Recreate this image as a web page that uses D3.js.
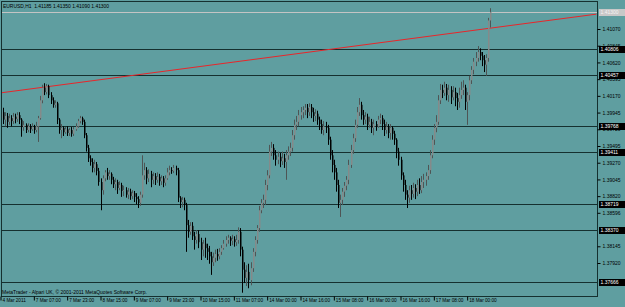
<!DOCTYPE html>
<html><head><meta charset="utf-8">
<script src="https://cdn.jsdelivr.net/npm/d3@7"></script>
<style>body{margin:0;background:#5f9ea0;} svg{display:block;} text{font-family:"Liberation Sans",Arial,sans-serif;}</style>
</head><body><svg id="c" width="625" height="307"></svg>
<script>
const titleText = "EURUSD,H1  1.41185 1.41350 1.41090 1.41300";
const footerText = "MetaTrader - Alpari UK, \u00a9 2001-2011 MetaQuotes Software Corp.";

const open = [
1.3987,1.3995,1.3985,1.3990,1.3982,1.3987,1.3983,1.3989,1.3986,1.3991,
1.3985,1.3975,1.3978,1.3971,1.3976,1.3972,1.3975,1.3971,1.3976,1.3987,
1.4011,1.4028,1.4022,1.4030,1.4018,1.4011,1.4005,1.4007,1.3985,1.3971,
1.3974,1.3968,1.3972,1.3967,1.3971,1.3966,1.3972,1.3976,1.3983,1.3987,
1.3982,1.3964,1.3947,1.3933,1.3928,1.3920,1.3925,1.3916,1.3901,1.3890,
1.3906,1.3914,1.3909,1.3912,1.3904,1.3898,1.3901,1.3893,1.3897,1.3889,
1.3890,1.3884,1.3888,1.3882,1.3886,1.3881,1.3878,1.3873,1.3884,1.3910,
1.3917,1.3906,1.3912,1.3904,1.3909,1.3904,1.3908,1.3902,1.3906,1.3900,
1.3906,1.3914,1.3917,1.3916,1.3920,1.3917,1.3880,1.3874,1.3877,1.3870,
1.3843,1.3834,1.3842,1.3828,1.3823,1.3831,1.3820,1.3810,1.3818,1.3812,
1.3807,1.3801,1.3793,1.3799,1.3804,1.3801,1.3807,1.3812,1.3818,1.3823,
1.3826,1.3822,1.3824,1.3820,1.3823,1.3834,1.3810,1.3783,1.3772,1.3780,
1.3769,1.3785,1.3807,1.3823,1.3839,1.3863,1.3873,1.3877,1.3897,1.3910,
1.3942,1.3947,1.3937,1.3931,1.3935,1.3929,1.3933,1.3928,1.3937,1.3942,
1.3947,1.3964,1.3978,1.3982,1.3991,1.3995,1.3998,1.4001,1.3995,1.4002,
1.3995,1.3990,1.3993,1.3985,1.3979,1.3971,1.3976,1.3974,1.3958,1.3937,
1.3924,1.3914,1.3897,1.3873,1.3877,1.3888,1.3896,1.3904,1.3924,1.3944,
1.3960,1.3978,1.3995,1.4005,1.3991,1.3985,1.3989,1.3978,1.3982,1.3974,
1.3979,1.3976,1.3985,1.3987,1.3979,1.3971,1.3975,1.3967,1.3974,1.3966,
1.3958,1.3942,1.3931,1.3910,1.3897,1.3884,1.3880,1.3890,1.3885,1.3893,
1.3888,1.3897,1.3890,1.3901,1.3904,1.3909,1.3917,1.3937,1.3958,1.3974,
1.3982,1.4011,1.4025,1.4021,1.4028,1.4018,1.4025,1.4015,1.4022,1.4014,
1.4009,1.4018,1.4025,1.4028,1.4009,1.4018,1.4038,1.4052,1.4063,1.4068,
1.4076,1.4071,1.4065,1.4059,1.4068,1.41185];

const high = [
1.4007,1.4001,1.3995,1.3994,1.3993,1.3991,1.3994,1.3993,1.3995,1.3995,
1.3987,1.3983,1.3980,1.3980,1.3979,1.3980,1.3978,1.3982,1.3990,1.4017,
1.4032,1.4034,1.4033,1.4032,1.4022,1.4015,1.4011,1.4009,1.3987,1.3979,
1.3976,1.3975,1.3976,1.3974,1.3975,1.3975,1.3980,1.3986,1.3990,1.3989,
1.3985,1.3967,1.3951,1.3937,1.3933,1.3931,1.3928,1.3920,1.3906,1.3910,
1.3917,1.3920,1.3917,1.3914,1.3908,1.3906,1.3904,1.3902,1.3900,1.3896,
1.3894,1.3893,1.3892,1.3890,1.3889,1.3886,1.3882,1.3888,1.3937,1.3927,
1.3921,1.3918,1.3916,1.3914,1.3913,1.3914,1.3912,1.3910,1.3909,1.3910,
1.3920,1.3923,1.3921,1.3924,1.3923,1.3920,1.3882,1.3881,1.3880,1.3873,
1.3850,1.3847,1.3847,1.3834,1.3836,1.3836,1.3826,1.3823,1.3826,1.3818,
1.3815,1.3807,1.3806,1.3810,1.3811,1.3812,1.3816,1.3823,1.3828,1.3830,
1.3828,1.3830,1.3828,1.3830,1.3840,1.3839,1.3814,1.3793,1.3789,1.3791,
1.3793,1.3812,1.3828,1.3843,1.3869,1.3878,1.3884,1.3904,1.3917,1.3951,
1.3955,1.3952,1.3944,1.3942,1.3940,1.3942,1.3939,1.3944,1.3949,1.3954,
1.3971,1.3985,1.3990,1.3998,1.4002,1.4003,1.4006,1.4006,1.4007,1.4006,
1.4001,1.3999,1.3997,1.3989,1.3985,1.3983,1.3982,1.3978,1.3962,1.3944,
1.3931,1.3920,1.3904,1.3884,1.3893,1.3901,1.3909,1.3931,1.3951,1.3966,
1.3985,1.4002,1.4014,1.4009,1.3998,1.3995,1.3993,1.3989,1.3986,1.3985,
1.3983,1.3990,1.3993,1.3991,1.3985,1.3982,1.3979,1.3979,1.3976,1.3970,
1.3960,1.3947,1.3935,1.3914,1.3904,1.3890,1.3896,1.3897,1.3900,1.3898,
1.3904,1.3906,1.3909,1.3912,1.3914,1.3924,1.3944,1.3964,1.3979,1.3991,
1.4018,1.4033,1.4032,1.4036,1.4033,1.4032,1.4030,1.4030,1.4028,1.4021,
1.4028,1.4036,1.4038,1.4032,1.4022,1.4044,1.4057,1.4068,1.4076,1.4084,
1.4081,1.4076,1.4072,1.4073,1.4122,1.41350];

const low = [
1.3955,1.3979,1.3976,1.3974,1.3978,1.3976,1.3979,1.3980,1.3982,1.3979,
1.3962,1.3970,1.3967,1.3968,1.3967,1.3970,1.3966,1.3968,1.3955,1.3985,
1.4007,1.4018,1.4019,1.4014,1.4006,1.4001,1.4001,1.3979,1.3966,1.3960,
1.3963,1.3966,1.3963,1.3963,1.3962,1.3963,1.3970,1.3974,1.3980,1.3978,
1.3960,1.3942,1.3928,1.3923,1.3914,1.3914,1.3910,1.3896,1.3863,1.3884,
1.3902,1.3904,1.3904,1.3898,1.3893,1.3890,1.3885,1.3890,1.3881,1.3882,
1.3880,1.3878,1.3877,1.3878,1.3874,1.3871,1.3866,1.3869,1.3880,1.3904,
1.3898,1.3901,1.3894,1.3898,1.3897,1.3900,1.3896,1.3897,1.3894,1.3896,
1.3904,1.3910,1.3912,1.3913,1.3910,1.3874,1.3866,1.3867,1.3863,1.3807,
1.3826,1.3830,1.3823,1.3810,1.3818,1.3812,1.3796,1.3801,1.3799,1.3796,
1.3791,1.3776,1.3788,1.3793,1.3795,1.3797,1.3803,1.3810,1.3814,1.3818,
1.3815,1.3816,1.3814,1.3815,1.3818,1.3801,1.3752,1.3765,1.3761,1.3758,
1.3762,1.3780,1.3801,1.3818,1.3834,1.3859,1.3866,1.3870,1.3890,1.3906,
1.3936,1.3931,1.3923,1.3925,1.3921,1.3924,1.3920,1.3904,1.3931,1.3936,
1.3942,1.3958,1.3971,1.3976,1.3985,1.3987,1.3991,1.3987,1.3990,1.3987,
1.3982,1.3983,1.3978,1.3971,1.3966,1.3964,1.3967,1.3951,1.3931,1.3914,
1.3904,1.3888,1.3866,1.3854,1.3870,1.3881,1.3890,1.3898,1.3920,1.3939,
1.3955,1.3974,1.3990,1.3985,1.3978,1.3979,1.3971,1.3974,1.3967,1.3964,
1.3970,1.3974,1.3979,1.3971,1.3963,1.3966,1.3960,1.3958,1.3958,1.3951,
1.3933,1.3923,1.3904,1.3888,1.3877,1.3866,1.3873,1.3877,1.3880,1.3878,
1.3882,1.3885,1.3886,1.3893,1.3896,1.3904,1.3912,1.3933,1.3951,1.3968,
1.3978,1.4006,1.4014,1.4017,1.4011,1.4009,1.4006,1.4011,1.4003,1.3998,
1.4001,1.4013,1.4018,1.3998,1.3978,1.4011,1.4033,1.4046,1.4057,1.4063,
1.4065,1.4057,1.4049,1.4044,1.4063,1.41090];

const close = [
1.3995,1.3985,1.3990,1.3982,1.3987,1.3983,1.3989,1.3986,1.3991,1.3985,
1.3975,1.3978,1.3971,1.3976,1.3972,1.3975,1.3971,1.3976,1.3987,1.4011,
1.4028,1.4022,1.4030,1.4018,1.4011,1.4005,1.4007,1.3985,1.3971,1.3974,
1.3968,1.3972,1.3967,1.3971,1.3966,1.3972,1.3976,1.3983,1.3987,1.3982,
1.3964,1.3947,1.3933,1.3928,1.3920,1.3925,1.3916,1.3901,1.3890,1.3906,
1.3914,1.3909,1.3912,1.3904,1.3898,1.3901,1.3893,1.3897,1.3889,1.3890,
1.3884,1.3888,1.3882,1.3886,1.3881,1.3878,1.3873,1.3884,1.3910,1.3917,
1.3906,1.3912,1.3904,1.3909,1.3904,1.3908,1.3902,1.3906,1.3900,1.3906,
1.3914,1.3917,1.3916,1.3920,1.3917,1.3880,1.3874,1.3877,1.3870,1.3843,
1.3834,1.3842,1.3828,1.3823,1.3831,1.3820,1.3810,1.3818,1.3812,1.3807,
1.3801,1.3793,1.3799,1.3804,1.3801,1.3807,1.3812,1.3818,1.3823,1.3826,
1.3822,1.3824,1.3820,1.3823,1.3834,1.3810,1.3783,1.3772,1.3780,1.3769,
1.3785,1.3807,1.3823,1.3839,1.3863,1.3873,1.3877,1.3897,1.3910,1.3942,
1.3947,1.3937,1.3931,1.3935,1.3929,1.3933,1.3928,1.3937,1.3942,1.3947,
1.3964,1.3978,1.3982,1.3991,1.3995,1.3998,1.4001,1.3995,1.4002,1.3995,
1.3990,1.3993,1.3985,1.3979,1.3971,1.3976,1.3974,1.3958,1.3937,1.3924,
1.3914,1.3897,1.3873,1.3877,1.3888,1.3896,1.3904,1.3924,1.3944,1.3960,
1.3978,1.3995,1.4005,1.3991,1.3985,1.3989,1.3978,1.3982,1.3974,1.3979,
1.3976,1.3985,1.3987,1.3979,1.3971,1.3975,1.3967,1.3974,1.3966,1.3958,
1.3942,1.3931,1.3910,1.3897,1.3884,1.3880,1.3890,1.3885,1.3893,1.3888,
1.3897,1.3890,1.3901,1.3904,1.3909,1.3917,1.3937,1.3958,1.3974,1.3982,
1.4011,1.4025,1.4021,1.4028,1.4018,1.4025,1.4015,1.4022,1.4014,1.4009,
1.4018,1.4025,1.4028,1.4009,1.4018,1.4038,1.4052,1.4063,1.4068,1.4076,
1.4071,1.4065,1.4059,1.4068,1.41185,1.41300];

const timeTickIndex = [0,16,32,48,64,80,96,112,128,144,160,176,192,208,224];
const timeTickLabels = ["4 Mar 2011","7 Mar 07:00","7 Mar 23:00","8 Mar 15:00","9 Mar 07:00","9 Mar 23:00",
  "10 Mar 15:00","11 Mar 07:00","14 Mar 00:00","14 Mar 16:00","15 Mar 08:00","16 Mar 00:00",
  "16 Mar 16:00","17 Mar 08:00","18 Mar 00:00"];

const priceTicks = [1.41070,1.40845,1.40620,1.40395,1.40170,1.39945,1.39720,1.39495,1.39270,1.39045,1.38820,1.38596,1.38145,1.37920];
const priceTickLabels = ["1.41070","1.40845","1.40620","1.40395","1.40170","1.39945","1.39720","1.39495","1.39270","1.39045","1.38820","1.38596","1.38145","1.37920"];

const levels = [1.40806,1.40457,1.39768,1.39411,1.38719,1.38370,1.37666];
const levelLabels = ["1.40806","1.40457","1.39768","1.39411","1.38719","1.38370","1.37666"];
const bidPrice = 1.41300;
const bidLabel = "1.41300";
const trendIndex = [0, 286];
const trendPrice = [1.4021, 1.4127];

const W = 625, H = 307;
const L = 1, T = 1, R = 597, B = 296;
const FONT = "'Liberation Sans',Arial,sans-serif";
const svg = d3.select("#c");
svg.append("rect").attr("width", W).attr("height", H).attr("fill", "#5f9ea0");

const x = d3.scaleLinear().domain([0, 288]).range([0.5, 600.5]);
const y = d3.scaleLinear().domain([1.37920, 1.41070]).range([263, 29]);
const py = v => Math.round(y(v)) + 0.5;

function fit(sel, refText, target) {
  const probe = svg.append("text").attr("font-size", 10).style("font-family", FONT).text(refText);
  const w = probe.node().getComputedTextLength();
  probe.remove();
  const fs = 10 * target / w;
  sel.attr("font-size", fs);
  return fs;
}

svg.append("clipPath").attr("id", "clip").append("rect")
  .attr("x", L).attr("y", T).attr("width", R - L).attr("height", B - T);
const plot = svg.append("g").attr("clip-path", "url(#clip)");

plot.selectAll("line.lvl").data(levels).join("line").attr("class", "lvl")
  .attr("x1", L).attr("x2", R).attr("y1", d => py(d)).attr("y2", d => py(d))
  .attr("stroke", "#15302f").attr("stroke-width", 1);

plot.append("line").attr("x1", L).attr("x2", R).attr("y1", py(bidPrice)).attr("y2", py(bidPrice))
  .attr("stroke", "#c4c4c4").attr("stroke-width", 1);

plot.append("line")
  .attr("x1", x(trendIndex[0])).attr("y1", y(trendPrice[0]))
  .attr("x2", x(trendIndex[1])).attr("y2", y(trendPrice[1]))
  .attr("stroke", "#e8262a").attr("stroke-width", 1);

const idx = d3.range(close.length);
const isBull = i => close[i] >= open[i];
const wickCol = i => isBull(i) ? "#4e5555" : "#000000";
const bodyCol = i => isBull(i) ? "#858a8a" : "#000000";
const px = i => Math.round(x(i));
plot.selectAll("line.wick").data(idx).join("line").attr("class", "wick")
  .attr("x1", i => px(i) + 0.5).attr("x2", i => px(i) + 0.5)
  .attr("y1", i => y(high[i])).attr("y2", i => y(low[i]))
  .attr("stroke", wickCol).attr("stroke-width", 1);
plot.selectAll("rect.body").data(idx).join("rect").attr("class", "body")
  .attr("x", i => px(i)).attr("width", 1.5)
  .attr("y", i => Math.min(y(open[i]), y(close[i])))
  .attr("height", i => Math.max(1, Math.abs(y(open[i]) - y(close[i]))))
  .attr("fill", bodyCol);

svg.append("rect").attr("x", L + 0.5).attr("y", T + 0.5).attr("width", R - L).attr("height", B - T)
  .attr("fill", "none").attr("stroke", "#15302f").attr("stroke-width", 1);

const yAxis = d3.axisRight(y).tickValues(priceTicks).tickFormat((d, i) => priceTickLabels[i]).tickSize(3).tickPadding(2);
const ga = svg.append("g").attr("transform", `translate(${R + 0.5},0)`).call(yAxis);
ga.select(".domain").remove();
ga.selectAll("line").attr("stroke", "#000");
const priceFs = fit(ga.selectAll("text"), "1.41070", 18);
ga.selectAll("text").attr("fill", "#000").style("font-family", FONT);

const lg = svg.append("g");
levels.forEach((v, i) => {
  const yy = py(v);
  lg.append("rect").attr("x", 599).attr("y", yy - 3.5).attr("width", 26).attr("height", 7).attr("fill", "#000");
  lg.append("text").attr("x", 600.5).attr("y", yy).attr("dy", "0.35em").attr("font-size", priceFs)
    .style("font-family", FONT).attr("fill", "#fff").text(levelLabels[i]);
});
lg.append("rect").attr("x", 599).attr("y", py(bidPrice) - 3.5).attr("width", 26).attr("height", 7).attr("fill", "#c8c8c8");
lg.append("text").attr("x", 600.5).attr("y", py(bidPrice)).attr("dy", "0.35em").attr("font-size", priceFs)
  .style("font-family", FONT).attr("fill", "#f4f4f4").text(bidLabel);

const xAxis = d3.axisBottom(x).tickValues(timeTickIndex).tickFormat((d, i) => timeTickLabels[i]).tickSize(4);
const gx = svg.append("g").attr("transform", `translate(0,${B + 0.5})`).call(xAxis);
gx.select(".domain").remove();
gx.selectAll("line").attr("stroke", "#000");
fit(gx.selectAll("text"), "7 Mar 07:00", 25);
gx.selectAll("text").attr("fill", "#000").attr("text-anchor", "start")
  .attr("x", 1.5).attr("y", 2.5).attr("dy", "0.71em").style("font-family", FONT);

const tt = svg.append("text").attr("x", 3).attr("y", 7.5).attr("fill", "#000")
  .style("white-space", "pre").style("font-family", FONT).text(titleText);
fit(tt, titleText, 105);
const ft = svg.append("text").attr("x", 2).attr("y", 293.5).attr("fill", "#000")
  .style("font-family", FONT).text(footerText);
fit(ft, footerText, 145);
</script>
</body></html>
